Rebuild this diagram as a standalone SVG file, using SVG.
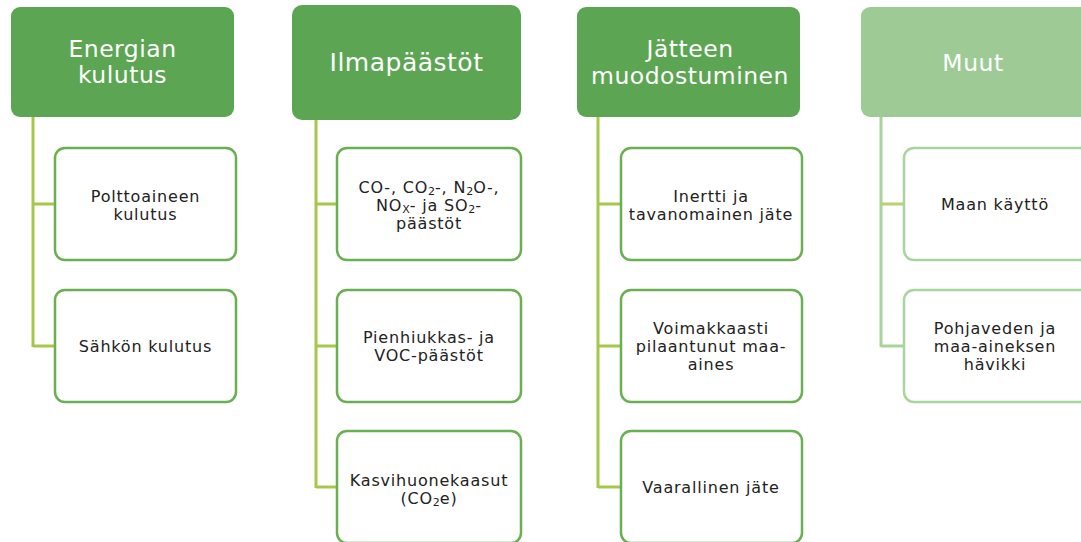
<svg xmlns="http://www.w3.org/2000/svg" width="1081" height="542" viewBox="0 0 1081 542">
  <style>
    .hdr { fill: #5ca553; }
    .hdr-lt { fill: #9ecb95; }
    .hdr-txt { font-family: "DejaVu Sans", Verdana, sans-serif; font-size: 23.5px; letter-spacing: 0.5px; fill: #ffffff; text-anchor: middle; }
    .child { fill: #ffffff; stroke: #6aaf52; stroke-width: 2.5; }
    .child-lt { fill: #ffffff; stroke: #a9d59d; stroke-width: 2.5; }
    .txt { font-family: "DejaVu Sans", Verdana, sans-serif; font-size: 16px; letter-spacing: 0.8px; fill: #222222; text-anchor: middle; }
    .conn { fill: none; stroke: #a6c84a; stroke-width: 3; }
    .conn-lt { fill: none; stroke: #a9d39a; stroke-width: 3; }
    .sub { font-size: 11px; letter-spacing: 0; }
  </style>

  <!-- connectors -->
  <g id="connectors">
    <path class="conn" d="M33 117 V347 M33 204 H55 M33 346 H55"/>
    <path class="conn" d="M316 120 V488 M316 204 H337 M316 346 H337 M316 487 H337"/>
    <path class="conn" d="M598 117 V488 M598 204 H621 M598 346 H621 M598 487 H621"/>
    <path class="conn-lt" d="M881 117 V347 M881 346 H904"/>
    <path class="conn" d="M881 204 H904" style="stroke:#b6d36c"/>
  </g>

  <!-- column 1 -->
  <g id="energian-kulutus">
    <rect class="hdr" x="11" y="7" width="223" height="110" rx="9"/>
    <text class="hdr-txt" x="122.5" y="57">Energian</text>
    <text class="hdr-txt" x="122.5" y="83">kulutus</text>
  </g>
  <g id="polttoaineen-kulutus">
    <rect class="child" x="55" y="148" width="181" height="112" rx="10"/>
    <text class="txt" x="145.5" y="202">Polttoaineen</text>
    <text class="txt" x="145.5" y="220">kulutus</text>
  </g>
  <g id="sahkon-kulutus">
    <rect class="child" x="55" y="290" width="181" height="112" rx="10"/>
    <text class="txt" x="145.5" y="352">Sähkön kulutus</text>
  </g>

  <!-- column 2 -->
  <g id="ilmapaastot">
    <rect class="hdr" x="292" y="5" width="229" height="115" rx="10"/>
    <text class="hdr-txt" x="406.5" y="71" style="font-size:25px">Ilmapäästöt</text>
  </g>
  <g id="co-paastot">
    <rect class="child" x="337" y="148" width="184" height="112" rx="10"/>
    <text class="txt" x="429" y="193">CO-, CO<tspan class="sub" dy="1.5">2</tspan><tspan dy="-1.5">-, N</tspan><tspan class="sub" dy="1.5">2</tspan><tspan dy="-1.5">O-,</tspan></text>
    <text class="txt" x="429" y="211">NO<tspan class="sub" dy="1.5">X</tspan><tspan dy="-1.5">- ja SO</tspan><tspan class="sub" dy="1.5">2</tspan><tspan dy="-1.5">-</tspan></text>
    <text class="txt" x="429" y="229">päästöt</text>
  </g>
  <g id="pienhiukkas-voc">
    <rect class="child" x="337" y="290" width="184" height="112" rx="10"/>
    <text class="txt" x="429" y="343">Pienhiukkas- ja</text>
    <text class="txt" x="429" y="361">VOC-päästöt</text>
  </g>
  <g id="kasvihuonekaasut">
    <rect class="child" x="337" y="431" width="184" height="112" rx="10"/>
    <text class="txt" x="429" y="486">Kasvihuonekaasut</text>
    <text class="txt" x="429" y="504">(CO<tspan class="sub" dy="1.5">2</tspan><tspan dy="-1.5">e)</tspan></text>
  </g>

  <!-- column 3 -->
  <g id="jatteen-muodostuminen">
    <rect class="hdr" x="577" y="7" width="223" height="110" rx="9"/>
    <text class="hdr-txt" x="690" y="57">Jätteen</text>
    <text class="hdr-txt" x="690" y="84">muodostuminen</text>
  </g>
  <g id="inertti-jate">
    <rect class="child" x="621" y="148" width="181" height="112" rx="10"/>
    <text class="txt" x="711" y="202">Inertti ja</text>
    <text class="txt" x="711" y="220">tavanomainen jäte</text>
  </g>
  <g id="pilaantunut-maa-aines">
    <rect class="child" x="621" y="290" width="181" height="112" rx="10"/>
    <text class="txt" x="711" y="334">Voimakkaasti</text>
    <text class="txt" x="711" y="352">pilaantunut maa-</text>
    <text class="txt" x="711" y="370">aines</text>
  </g>
  <g id="vaarallinen-jate">
    <rect class="child" x="621" y="431" width="181" height="112" rx="10"/>
    <text class="txt" x="711" y="493">Vaarallinen jäte</text>
  </g>

  <!-- column 4 -->
  <g id="muut">
    <rect class="hdr-lt" x="861" y="7" width="230" height="110" rx="9"/>
    <text class="hdr-txt" x="973" y="71">Muut</text>
  </g>
  <g id="maan-kaytto">
    <rect class="child-lt" x="904" y="148" width="190" height="112" rx="10"/>
    <text class="txt" x="995" y="210">Maan käyttö</text>
  </g>
  <g id="pohjaveden-havikki">
    <rect class="child-lt" x="904" y="290" width="190" height="112" rx="10"/>
    <text class="txt" x="995" y="334">Pohjaveden ja</text>
    <text class="txt" x="995" y="352">maa-aineksen</text>
    <text class="txt" x="995" y="370">hävikki</text>
  </g>
</svg>
